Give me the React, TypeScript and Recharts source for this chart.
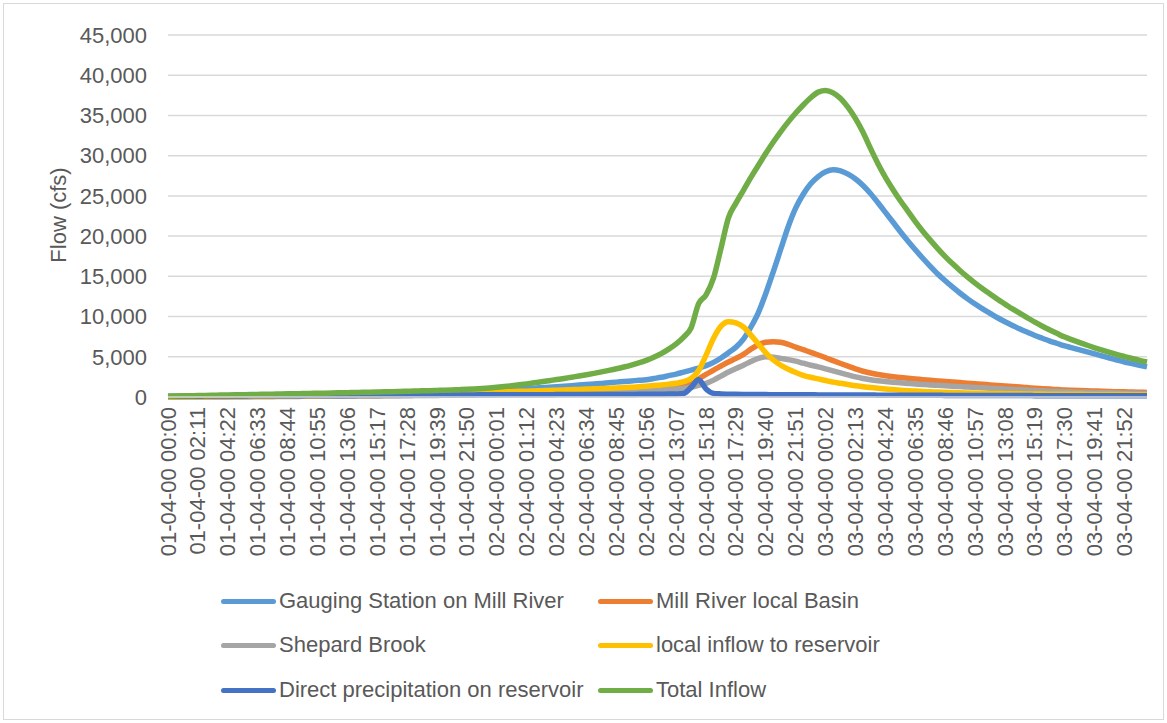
import { LineChart, Line, XAxis, YAxis, CartesianGrid } from 'recharts';

// Tick labels shown on the time axis (every 4th step)
const timeLabels = [
  '01-04-00 00:00', '01-04-00 02:11', '01-04-00 04:22', '01-04-00 06:33', '01-04-00 08:44',
  '01-04-00 10:55', '01-04-00 13:06', '01-04-00 15:17', '01-04-00 17:28', '01-04-00 19:39',
  '01-04-00 21:50', '02-04-00 00:01', '02-04-00 01:12', '02-04-00 04:23', '02-04-00 06:34',
  '02-04-00 08:45', '02-04-00 10:56', '02-04-00 13:07', '02-04-00 15:18', '02-04-00 17:29',
  '02-04-00 19:40', '02-04-00 21:51', '03-04-00 00:02', '03-04-00 02:13', '03-04-00 04:24',
  '03-04-00 06:35', '03-04-00 08:46', '03-04-00 10:57', '03-04-00 13:08', '03-04-00 15:19',
  '03-04-00 17:30', '03-04-00 19:41', '03-04-00 21:52',
];
const STEPS_PER_LABEL = 4;

const yTicks = [0, 5000, 10000, 15000, 20000, 25000, 30000, 35000, 40000, 45000];

// Flow (cfs), 132 steps
const gauging = [
  30, 40, 50, 60, 70, 80, 90, 100, 110, 125,
  135, 145, 160, 170, 185, 195, 210, 225, 240, 255,
  270, 285, 305, 320, 340, 355, 375, 390, 410, 435,
  455, 480, 500, 525, 550, 575, 600, 630, 660, 690,
  720, 755, 790, 830, 870, 910, 960, 1000, 1050, 1100,
  1160, 1220, 1280, 1350, 1410, 1480, 1550, 1620, 1690, 1770,
  1850, 1920, 2000, 2070, 2150, 2300, 2450, 2650, 2850, 3100,
  3350, 3600, 3900, 4300, 4850, 5500, 6200, 7200, 8700, 10500,
  12900, 15600, 18400, 21200, 23500, 25200, 26500, 27400, 28000, 28250,
  28100, 27700, 27100, 26300, 25300, 24150, 22950, 21750, 20550, 19400,
  18300, 17250, 16250, 15300, 14450, 13650, 12900, 12200, 11550, 10950,
  10400, 9850, 9350, 8900, 8450, 8050, 7650, 7300, 6950, 6650,
  6350, 6100, 5850, 5600, 5350, 5100, 4850, 4600, 4350, 4150,
  3950, 3750,
];

const millRiver = [
  10, 14, 18, 22, 25, 30, 35, 40, 45, 50,
  55, 60, 65, 70, 76, 83, 90, 96, 102, 108,
  115, 121, 127, 133, 140, 147, 154, 162, 170, 180,
  190, 200, 210, 222, 234, 247, 260, 275, 290, 305,
  320, 337, 354, 372, 390, 412, 434, 457, 480, 505,
  530, 555, 580, 610, 640, 670, 700, 735, 770, 810,
  850, 895, 940, 990, 1050, 1130, 1220, 1320, 1430, 1560,
  1750, 2250, 2800, 3350, 3850, 4350, 4800, 5300, 5950, 6500,
  6800, 6880, 6800, 6550, 6200, 5880, 5550, 5220, 4880, 4520,
  4170, 3830, 3500, 3200, 2980, 2800, 2650, 2520, 2420, 2330,
  2240, 2160, 2080, 2000, 1930, 1860, 1790, 1720, 1650, 1580,
  1500, 1430, 1370, 1300, 1240, 1170, 1100, 1040, 980, 920,
  860, 830, 800, 770, 740, 710, 680, 660, 640, 610,
  590, 570,
];

const shepard = [
  10, 12, 15, 17, 20, 24, 28, 31, 35, 39,
  43, 46, 50, 55, 60, 65, 70, 75, 80, 85,
  90, 95, 100, 105, 110, 116, 122, 128, 135, 142,
  150, 157, 165, 173, 182, 191, 200, 211, 222, 233,
  245, 258, 272, 286, 300, 317, 334, 352, 370, 390,
  410, 430, 450, 472, 495, 517, 540, 567, 595, 622,
  650, 680, 710, 745, 780, 820, 870, 930, 1000, 1090,
  1200, 1450, 1700, 2100, 2600, 3100, 3550, 3950, 4400, 4800,
  5000, 4950, 4800, 4650, 4450, 4200, 3950, 3750, 3500, 3250,
  3000, 2750, 2500, 2300, 2150, 2030, 1930, 1840, 1760, 1690,
  1620, 1560, 1500, 1450, 1400, 1350, 1290, 1240, 1190, 1140,
  1090, 1040, 990, 940, 890, 850, 810, 770, 730, 700,
  660, 630, 600, 580, 560, 540, 520, 500, 480, 460,
  440, 420,
];

const localInflow = [
  20, 24, 28, 31, 35, 41, 47, 53, 60, 67,
  75, 82, 90, 99, 107, 116, 125, 136, 147, 158,
  170, 182, 195, 207, 220, 235, 250, 265, 280, 297,
  315, 332, 350, 370, 390, 410, 430, 452, 475, 497,
  520, 545, 570, 595, 620, 647, 675, 702, 730, 760,
  790, 820, 850, 882, 915, 947, 980, 1015, 1050, 1085,
  1120, 1160, 1200, 1270, 1340, 1420, 1500, 1600, 1720, 1900,
  2300, 3300, 5200, 7300, 8800, 9350, 9200, 8700, 7700, 6600,
  5500, 4600, 3950, 3450, 3050, 2700, 2450, 2250, 2050, 1850,
  1700, 1550, 1400, 1280, 1170, 1080, 1000, 920, 850, 790,
  740, 690, 650, 610, 580, 550, 520, 500, 480, 460,
  445, 430, 415, 400, 390, 380, 370, 360, 350, 345,
  340, 335, 330, 325, 320, 315, 310, 305, 300, 295,
  290, 285,
];

const directPrecip = [
  80, 90, 90, 100, 100, 110, 110, 120, 120, 130,
  130, 140, 140, 150, 150, 160, 160, 170, 170, 180,
  180, 190, 190, 200, 200, 200, 210, 210, 220, 220,
  220, 230, 230, 240, 240, 240, 250, 250, 250, 260,
  260, 260, 270, 270, 270, 280, 280, 280, 290, 290,
  290, 290, 300, 300, 300, 300, 310, 310, 310, 310,
  320, 320, 320, 330, 330, 340, 350, 360, 380, 450,
  1200, 2150, 1000, 450, 380, 350, 330, 320, 310, 300,
  300, 290, 290, 280, 280, 270, 270, 260, 260, 250,
  250, 250, 240, 240, 240, 230, 230, 230, 220, 220,
  220, 210, 210, 210, 200, 200, 200, 200, 190, 190,
  190, 190, 180, 180, 180, 180, 170, 170, 170, 170,
  170, 160, 160, 160, 160, 160, 150, 150, 150, 150,
  150, 150,
];

const totalInflow = [
  100, 120, 140, 160, 180, 200, 215, 235, 250, 270,
  285, 300, 320, 340, 355, 375, 390, 410, 425, 445,
  460, 480, 500, 520, 540, 560, 580, 600, 620, 640,
  665, 685, 710, 735, 765, 790, 820, 850, 885, 915,
  950, 1000, 1060, 1130, 1210, 1300, 1400, 1510, 1630, 1760,
  1890, 2030, 2170, 2310, 2460, 2610, 2770, 2940, 3120, 3310,
  3510, 3730, 3970, 4240, 4560, 4950, 5400, 5950, 6600, 7450,
  8600, 11600, 12700, 14800, 18500, 22300, 24100, 25700, 27300, 28800,
  30300, 31700, 33000, 34200, 35300, 36300, 37200, 37900, 38100, 37800,
  37100, 36000, 34600, 32900, 30900, 29000, 27300, 25800, 24400, 23100,
  21800, 20600, 19500, 18450, 17450, 16550, 15700, 14900, 14150, 13450,
  12800, 12150, 11550, 10950, 10400, 9850, 9300, 8800, 8330, 7880,
  7450, 7100, 6760, 6430, 6120, 5830, 5550, 5280, 5030, 4790,
  4560, 4350,
];

const series = [
  { key: 'gauging', name: 'Gauging Station on Mill River', color: '#5B9BD5' },
  { key: 'millRiver', name: 'Mill River local Basin', color: '#ED7D31' },
  { key: 'shepard', name: 'Shepard Brook', color: '#A5A5A5' },
  { key: 'localInflow', name: 'local inflow to reservoir', color: '#FFC000' },
  { key: 'directPrecip', name: 'Direct precipitation on reservoir', color: '#4472C4' },
  { key: 'totalInflow', name: 'Total Inflow', color: '#70AD47' },
];

const FONT = '"Liberation Sans", Arial, sans-serif';
const TEXT = '#595959';

const TimeTick = (props: any) => {
  const { x, y, payload } = props;
  const label = timeLabels[Math.round(payload.value / STEPS_PER_LABEL)];
  return (
    <text
      x={x}
      y={y}
      transform={`rotate(-90 ${x} ${y})`}
      textAnchor="end"
      dominantBaseline="central"
      fill={TEXT}
      fontSize={22}
      fontFamily={FONT}
    >
      {label}
    </text>
  );
};

export default function App() {
  const data = totalInflow.map((_, i) => ({
    i,
    gauging: gauging[i],
    millRiver: millRiver[i],
    shepard: shepard[i],
    localInflow: localInflow[i],
    directPrecip: directPrecip[i],
    totalInflow: totalInflow[i],
  }));
  const lastIdx = data.length - 1;
  const xTicks = timeLabels.map((_, k) => k * STEPS_PER_LABEL);

  // legend: two columns, three rows
  const legendCols = [221, 598];
  const legendRows = [601, 645, 690];

  return (
    <div style={{ position: 'absolute', left: 0, top: 0, width: 1167, height: 723, background: '#fff', fontFamily: FONT }}>
      <div style={{ position: 'absolute', left: 3, top: 3, width: 1159, height: 715, border: '1px solid #d9d9d9' }} />
      <LineChart width={1167} height={723} data={data} margin={{ top: 35, right: 20, left: 0, bottom: 166 }}>
        <CartesianGrid vertical={false} stroke="#d9d9d9" strokeWidth={1.5} />
        <XAxis
          type="number"
          dataKey="i"
          domain={[0, lastIdx]}
          ticks={xTicks}
          interval={0}
          tick={<TimeTick />}
          tickLine={false}
          tickSize={0}
          tickMargin={10}
          axisLine={{ stroke: '#d9d9d9', strokeWidth: 1.5 }}
          height={160}
        />
        <YAxis
          domain={[0, 45000]}
          ticks={yTicks}
          width={168}
          tickSize={0}
          tickMargin={21}
          axisLine={false}
          tickLine={false}
          tick={{ fill: TEXT, fontSize: 22, fontFamily: FONT }}
          tickFormatter={(v: number) => v.toLocaleString('en-US')}
        />
        {series.map((s) => (
          <Line
            key={s.key}
            type="monotone"
            dataKey={s.key}
            name={s.name}
            stroke={s.color}
            strokeWidth={5.5}
            dot={false}
            activeDot={false}
            isAnimationActive={false}
          />
        ))}
      </LineChart>

      <div
        style={{
          position: 'absolute',
          left: 58.5,
          top: 215,
          transform: 'translate(-50%, -50%) rotate(-90deg)',
          whiteSpace: 'nowrap',
          fontSize: 22,
          color: TEXT,
        }}
      >
        Flow (cfs)
      </div>

      {series.map((s, idx) => {
        const left = legendCols[idx % 2];
        const top = legendRows[Math.floor(idx / 2)];
        return (
          <div
            key={s.key}
            style={{
              position: 'absolute',
              left,
              top,
              transform: 'translateY(-50%)',
              display: 'flex',
              alignItems: 'center',
              whiteSpace: 'nowrap',
              fontSize: 22,
              color: TEXT,
            }}
          >
            <span style={{ display: 'inline-block', width: 55, height: 5, borderRadius: 3, background: s.color, marginRight: 3 }} />
            <span>{s.name}</span>
          </div>
        );
      })}
    </div>
  );
}
